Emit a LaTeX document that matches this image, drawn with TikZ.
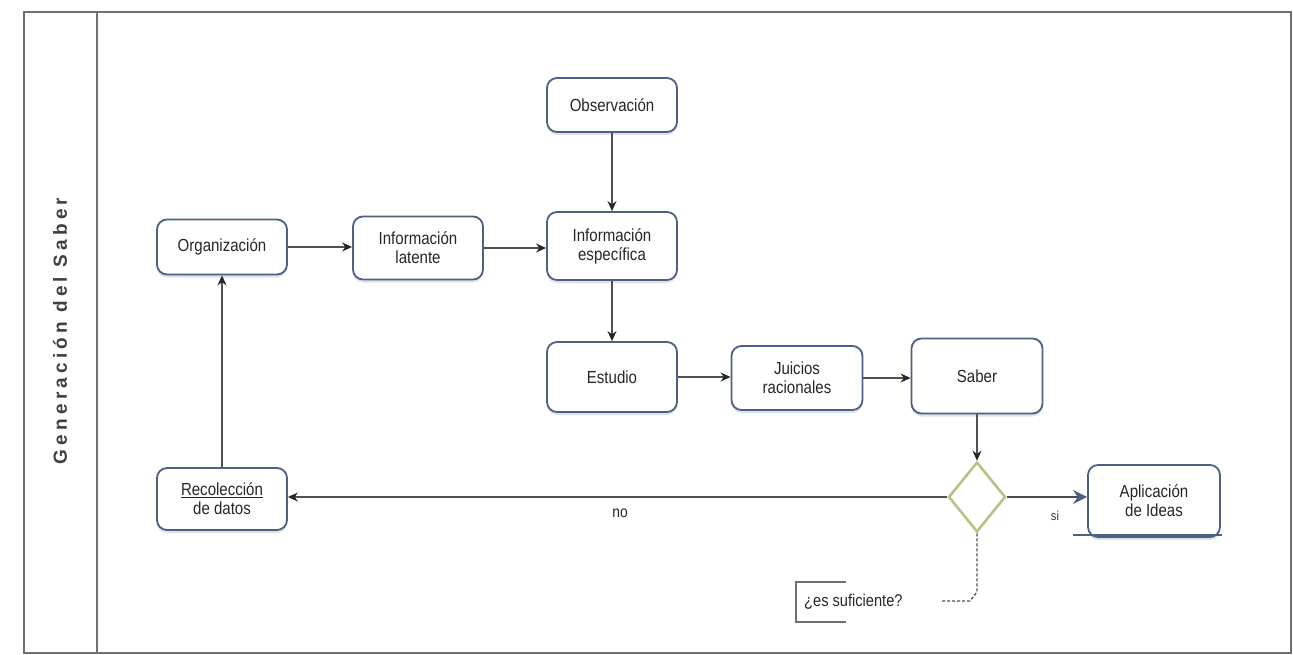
\documentclass[tikz,border=0pt]{standalone}
\usepackage{fontspec}
\setmainfont{Liberation Sans}
\newfontfamily\boxfont[FakeStretch=0.86]{Liberation Sans}
\newfontfamily\titlefont[LetterSpace=22]{Liberation Sans}
\usetikzlibrary{arrows.meta,shapes.geometric,shadows}
\definecolor{boxblue}{HTML}{4D5F82}
\definecolor{linegray}{HTML}{505050}
\definecolor{olive}{HTML}{B7C384}
\definecolor{framegray}{HTML}{707070}
\tikzset{
  taskbox/.style={draw=boxblue, line width=1.8pt, rounded corners=10pt, fill=white,
    minimum width=130pt, align=center, font=\boxfont\fontsize{17.5}{19}\selectfont, text=black!85,
    drop shadow={shadow xshift=0pt, shadow yshift=-3pt, fill=boxblue, opacity=0.18}},
  flow/.style={draw=linegray, line width=1.4pt, -{Stealth[length=10pt,width=9pt,color=black!85]}},
  frameline/.style={draw=framegray, line width=1.5pt},
  lbl/.style={font=\boxfont\fontsize{16}{18}\selectfont, text=black!85}
}
\begin{document}
\begin{tikzpicture}[x=1pt,y=-1pt]
\useasboundingbox (0,0) rectangle (1293,655);
% frame
\draw[frameline] (24,653) -- (24,12) -- (1291,12) -- (1291,653) -- cycle;
\draw[frameline] (97,12) -- (97,653);
\node[rotate=90, font=\titlefont\bfseries\fontsize{19}{21}\selectfont, text=black!75] (title) at (60,331) {Generación del Saber};
% tasks
\node[taskbox, minimum height=55pt] (org) at (222,247) {Organización};
\node[taskbox, minimum height=63pt] (lat) at (418,248) {Información\\latente};
\node[taskbox, minimum height=54pt] (obs) at (612,105) {Observación};
\node[taskbox, minimum height=68pt] (esp) at (612,246) {Información\\específica};
\node[taskbox, minimum height=70pt] (est) at (612,377) {Estudio};
\node[taskbox, minimum width=131pt, minimum height=64pt] (jui) at (797,378) {Juicios\\racionales};
\node[taskbox, minimum width=131pt, minimum height=75pt] (sab) at (977,376) {Saber};
\node[taskbox, minimum height=62pt] (rec) at (222,499) {\underline{Recolección}\\de datos};
\node[taskbox, minimum width=132pt, minimum height=72pt] (apl) at (1154,501) {Aplicación\\de Ideas};
\draw[boxblue, line width=1.8pt] (1073,535) -- (1222,535);
% gateway
\node[diamond, draw=olive, line width=2.6pt, fill=white, minimum width=57pt, minimum height=70pt, inner sep=0pt] (dec) at (977,497) {};
% annotation
\node[font=\boxfont\fontsize{17}{19}\selectfont, text=black!85, anchor=west, inner sep=0pt] (ann) at (804,602) {¿es suficiente?};
\draw[draw=framegray, line width=1.3pt] (846,582) -- (796,582) -- (796,622) -- (846,622);
\coordinate (annend) at (942,601);
\draw[draw=linegray, line width=1.3pt, dashed, dash pattern=on 3pt off 2pt] (dec.south) -- (977,592) -- (970,601) -- (annend);
% flows
\draw[flow] (obs) -- (esp);
\draw[flow] (org.east) -- (lat.west |- org.east);
\draw[flow] (lat.east) -- (esp.west |- lat.east);
\draw[flow] (esp) -- (est);
\draw[flow] (est.east) -- (jui.west |- est.east);
\draw[flow] (jui.east) -- (sab.west |- jui.east);
\draw[flow] (sab) -- (dec);
\draw[flow] (dec.west) -- (rec.east |- dec.west);
\draw[flow] (rec) -- (org);
\draw[draw=black!70, line width=1.6pt, -{Stealth[length=14pt,width=14pt, color=boxblue]}] (dec.east) -- (apl.west |- dec.east);
\node[lbl] (no) at (620,513) {no};
\node[font=\boxfont\fontsize{13}{15}\selectfont, text=black!80] (si) at (1055,516) {si};
\end{tikzpicture}
\end{document}
